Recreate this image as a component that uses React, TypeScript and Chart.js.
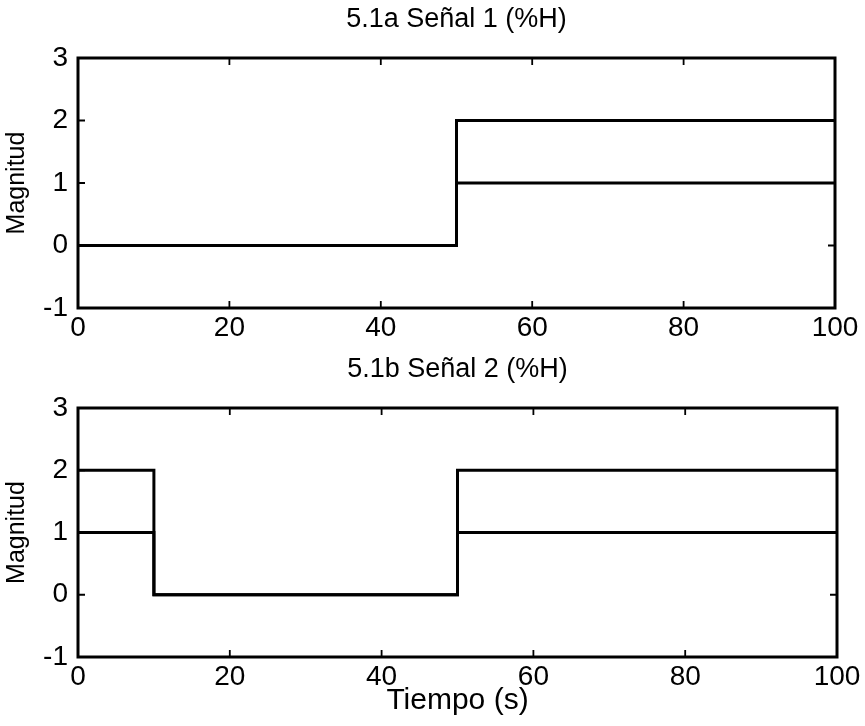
import React, { useEffect, useRef } from "react";
import { Chart, registerables } from "chart.js";

Chart.register(...registerables);

// ---- data ----
const TIME_TOP = [0, 50, 100];
const TOP_SERIES_A = [0, 2, 2];
const TOP_SERIES_B = [0, 1, 1];

const TIME_BOTTOM = [0, 10, 50, 100];
const BOTTOM_SERIES_A = [2, 0, 2, 2];
const BOTTOM_SERIES_B = [1, 0, 1, 1];

const TITLE_TOP = "5.1a Señal 1 (%H)";
const TITLE_BOTTOM = "5.1b Señal 2 (%H)";
const Y_LABEL = "Magnitud";
const X_LABEL = "Tiempo (s)";

const X_MIN = 0, X_MAX = 100, X_STEP = 20;
const Y_MIN = -1, Y_MAX = 3, Y_STEP = 1;

const FONT = "'Liberation Sans', Arial, sans-serif";
const W = 865;
const H_TOP = 345;
const H_BOT = 381;
const TICK = 7;

const framePlugin = {
  id: "frame",
  afterDatasetsDraw(chart: any, _args: any, opts: any) {
    const { ctx, chartArea: a, scales } = chart;
    const xs = scales.x, ys = scales.y;
    ctx.save();
    ctx.strokeStyle = "#000";
    ctx.lineWidth = 1.8;
    ctx.beginPath();
    xs.ticks.forEach((t: any) => {
      const px = xs.getPixelForValue(t.value);
      ctx.moveTo(px, a.bottom);
      ctx.lineTo(px, a.bottom - TICK);
      ctx.moveTo(px, a.top);
      ctx.lineTo(px, a.top + TICK);
    });
    ys.ticks.forEach((t: any) => {
      const py = ys.getPixelForValue(t.value);
      ctx.moveTo(a.left, py);
      ctx.lineTo(a.left + TICK, py);
      ctx.moveTo(a.right, py);
      ctx.lineTo(a.right - TICK, py);
    });
    ctx.stroke();
    ctx.lineWidth = 3;
    ctx.strokeRect(a.left, a.top, a.right - a.left, a.bottom - a.top);
    ctx.fillStyle = "#000";
    ctx.font = `27px ${FONT}`;
    ctx.textAlign = "center";
    ctx.textBaseline = "middle";
    ctx.fillText(opts.title, (a.left + a.right) / 2, a.top - opts.titleGap);
    ctx.restore();
  },
};

function makeConfig(
  times: number[],
  a: number[],
  b: number[],
  title: string,
  pad: { top: number; right: number },
  xHeight: number,
  xTitle: string | null
): any {
  const toPts = (vals: number[]) => times.map((x, i) => ({ x, y: vals[i] }));
  const ds = (vals: number[]) => ({
    data: toPts(vals),
    borderColor: "#000",
    borderWidth: 3,
    pointRadius: 0,
    stepped: "before",
    fill: false,
  });
  return {
    type: "line",
    data: { datasets: [ds(a), ds(b)] },
    plugins: [framePlugin],
    options: {
      responsive: false,
      animation: false,
      events: [],
      layout: { padding: { top: pad.top, right: pad.right, left: 0, bottom: 0 } },
      plugins: {
        legend: { display: false },
        tooltip: { enabled: false },
        title: { display: false },
        frame: { title, titleGap: 38 },
      },
      scales: {
        x: {
          type: "linear",
          min: X_MIN,
          max: X_MAX,
          grid: { display: false, drawTicks: false },
          border: { display: false },
          ticks: {
            stepSize: X_STEP,
            color: "#000",
            padding: 3,
            maxRotation: 0,
            font: { family: FONT, size: 28 },
          },
          title: xTitle
            ? {
                display: true,
                text: xTitle,
                color: "#000",
                font: { family: FONT, size: 30 },
                padding: { top: 0, bottom: 7 },
              }
            : { display: false },
          afterFit: (s: any) => {
            s.height = xHeight;
          },
        },
        y: {
          type: "linear",
          min: Y_MIN,
          max: Y_MAX,
          grid: { display: false, drawTicks: false },
          border: { display: false },
          ticks: {
            stepSize: Y_STEP,
            color: "#000",
            padding: 10,
            font: { family: FONT, size: 28 },
          },
          title: {
            display: true,
            text: Y_LABEL,
            color: "#000",
            font: { family: FONT, size: 25 },
            padding: { top: 2, bottom: 0 },
          },
          afterFit: (s: any) => {
            s.width = 78;
          },
        },
      },
    },
  };
}

export default function App() {
  const topRef = useRef<HTMLCanvasElement>(null);
  const botRef = useRef<HTMLCanvasElement>(null);

  useEffect(() => {
    const c1 = new Chart(
      topRef.current as HTMLCanvasElement,
      makeConfig(TIME_TOP, TOP_SERIES_A, TOP_SERIES_B, TITLE_TOP, { top: 58, right: 30 }, H_TOP - 308, null)
    );
    const c2 = new Chart(
      botRef.current as HTMLCanvasElement,
      makeConfig(TIME_BOTTOM, BOTTOM_SERIES_A, BOTTOM_SERIES_B, TITLE_BOTTOM, { top: 408 - H_TOP, right: 28 }, 69, X_LABEL)
    );
    return () => {
      c1.destroy();
      c2.destroy();
    };
  }, []);

  return (
    <div style={{ position: "fixed", left: 0, top: 0, width: W, height: H_TOP + H_BOT, background: "#fff" }}>
      <canvas ref={topRef} width={W} height={H_TOP} style={{ display: "block" }} />
      <canvas ref={botRef} width={W} height={H_BOT} style={{ display: "block" }} />
    </div>
  );
}
